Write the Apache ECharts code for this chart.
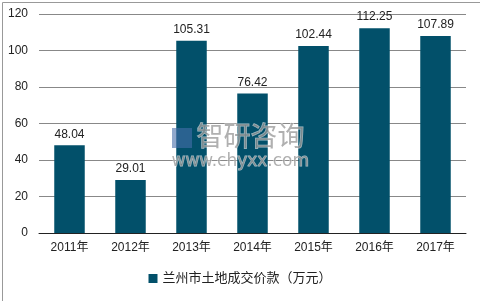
<!DOCTYPE html>
<html><head><meta charset="utf-8">
<script src="https://cdn.jsdelivr.net/npm/echarts@6/dist/echarts.min.js"></script>
<style>html,body{margin:0;padding:0;background:#fff}#c{width:480px;height:301px}</style>
</head><body><div id="c"></div>
<script>
const categories = ['2011年','2012年','2013年','2014年','2015年','2016年','2017年'];
const values = [48.04, 29.01, 105.31, 76.42, 102.44, 112.25, 107.89];
const seriesName = '兰州市土地成交价款（万元）';
const chart = echarts.init(document.getElementById('c'), null, {renderer:'canvas'});
const font = '"Liberation Sans", Arial, "Noto Sans CJK SC", sans-serif';
chart.setOption({
  animation:false,
  textStyle:{fontFamily:font},
  grid:{left:39, right:14, top:14, bottom:68},
  legend:{bottom:11, left:'center', itemWidth:9, itemHeight:9, icon:'rect', itemGap:5,
    textStyle:{fontSize:13, color:'#222', fontFamily:font}},
  xAxis:{type:'category', data:categories,
    axisLine:{lineStyle:{color:'#222', width:1}}, axisTick:{show:false},
    axisLabel:{fontSize:12, color:'#222', margin:9}},
  yAxis:{type:'value', min:0, max:120, interval:20,
    axisLine:{show:false}, axisTick:{show:false},
    splitLine:{lineStyle:{color:'#888', width:1}},
    axisLabel:{fontSize:12, color:'#222', margin:11}},
  series:[{name:seriesName, type:'bar', data:values, barWidth:'50%',
    itemStyle:{color:'#02506a'},
    label:{show:true, position:'top', fontSize:12, color:'#222', distance:5}}],
  graphic:[
    {type:'rect', left:0, top:0, shape:{width:479, height:300}, style:{fill:'none', stroke:'#999', lineWidth:1}, silent:true},
    {type:'text', left:196, top:122, style:{text:'智研咨询', font:'27px "Noto Sans CJK SC"', fill:'rgba(150,150,150,0.75)', stroke:'rgba(255,255,255,0.6)', lineWidth:1}, z:100},
    {type:'text', left:171, top:153, style:{text:'www.chyxx.com', font:'17px "DejaVu Sans"', fill:'rgba(150,150,150,0.75)', stroke:'rgba(255,255,255,0.6)', lineWidth:1}, z:100},
    {type:'rect', left:172, top:128, shape:{width:20, height:20}, style:{fill:'rgba(70,110,170,0.6)'}, z:100}
  ]
});
</script></body></html>
